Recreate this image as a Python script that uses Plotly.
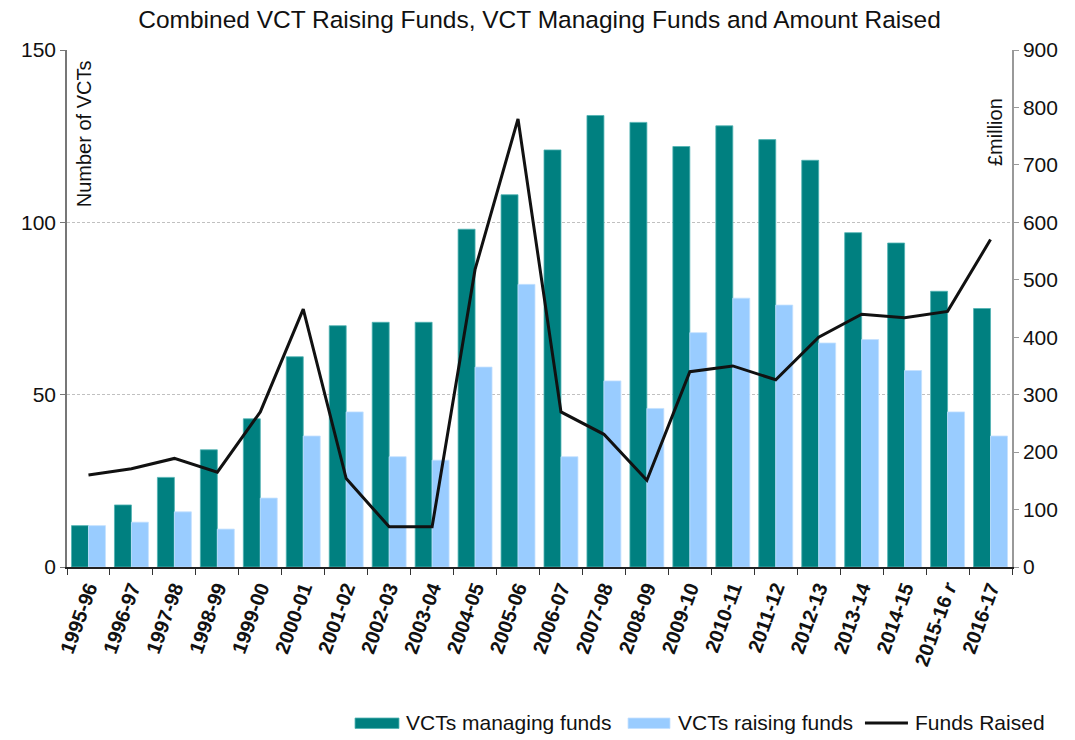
import plotly.graph_objects as go

years = ["1995-96", "1996-97", "1997-98", "1998-99", "1999-00", "2000-01", "2001-02",
         "2002-03", "2003-04", "2004-05", "2005-06", "2006-07", "2007-08", "2008-09",
         "2009-10", "2010-11", "2011-12", "2012-13", "2013-14", "2014-15", "2015-16 r",
         "2016-17"]
managing = [12, 18, 26, 34, 43, 61, 70, 71, 71, 98, 108, 121, 131, 129, 122, 128, 124,
            118, 97, 94, 80, 75]
raising = [12, 13, 16, 11, 20, 38, 45, 32, 31, 58, 82, 32, 54, 46, 68, 78, 76, 65, 66,
           57, 45, 38]
funds_raised = [160, 171, 189, 165, 270, 449, 154, 70, 70, 518, 780, 270, 231, 151, 340,
                350, 326, 400, 440, 434, 445, 570]
series_names = ["VCTs managing funds", "VCTs raising funds", "Funds Raised"]

FONT = "Liberation Sans, Arial, sans-serif"
TEAL = "#008080"
LIGHT = "#99CCFF"
BLACK = "#111111"

tick_text = [y.replace(" r", " <i>r</i>") for y in years]

fig = go.Figure()
fig.add_trace(go.Bar(x=years, y=managing, name=series_names[0],
                     marker=dict(color=TEAL, line=dict(color="#4FB3B3", width=0.8))))
fig.add_trace(go.Bar(x=years, y=raising, name=series_names[1],
                     marker=dict(color=LIGHT, line=dict(color="#C4E1FF", width=0.8))))
fig.add_trace(go.Scatter(x=years, y=funds_raised, name=series_names[2], yaxis="y2",
                         mode="lines", line=dict(color=BLACK, width=3)))

# manual legend (wide swatches as in the reference), positioned in paper coords
shapes = [
    dict(type="rect", xref="paper", yref="paper", x0=0.3048, x1=0.3513,
         y0=-0.3123, y1=-0.2921, fillcolor=TEAL, line=dict(color="#4FB3B3", width=0.8)),
    dict(type="rect", xref="paper", yref="paper", x0=0.5937, x1=0.6381,
         y0=-0.3123, y1=-0.2921, fillcolor=LIGHT, line=dict(color="#C4E1FF", width=0.8)),
    dict(type="line", xref="paper", yref="paper", x0=0.8444, x1=0.8899,
         y0=-0.3017, y1=-0.3017, line=dict(color=BLACK, width=3)),
]
legend_text_x = [0.3566, 0.6444, 0.8952]
annotations = [
    dict(text=name, xref="paper", yref="paper", x=lx, y=-0.3017, xanchor="left",
         yanchor="middle", showarrow=False, font=dict(size=21, family=FONT, color=BLACK))
    for name, lx in zip(series_names, legend_text_x)
]
annotations += [
    dict(text="Number of VCTs", xref="paper", yref="paper", x=0.018, y=0.983,
         xanchor="center", yanchor="top", textangle=-90, showarrow=False,
         font=dict(size=20, family=FONT, color=BLACK)),
    dict(text="£million", xref="paper", yref="paper", x=0.982, y=0.911,
         xanchor="center", yanchor="top", textangle=-90, showarrow=False,
         font=dict(size=20, family=FONT, color=BLACK)),
]

fig.update_layout(
    width=1075, height=740,
    margin=dict(l=67, r=63, t=50, b=173),
    paper_bgcolor="white", plot_bgcolor="white",
    font=dict(family=FONT, size=21, color=BLACK),
    title=dict(text="Combined VCT Raising Funds, VCT Managing Funds and Amount Raised",
               x=0.5, xref="paper", xanchor="center", y=0.974, yanchor="middle",
               font=dict(size=24.5, family=FONT, color=BLACK)),
    barmode="group", bargap=0.21, bargroupgap=0,
    showlegend=False,
    xaxis=dict(type="category", tickson="boundaries", ticks="outside", ticklen=6,
               tickcolor="#333333", showline=True, linecolor="#222222", linewidth=1.5,
               tickangle=-70, automargin=False,
               tickmode="array", tickvals=years, ticktext=tick_text,
               tickfont=dict(size=20, family=FONT, weight="bold", color=BLACK),
               showgrid=False),
    yaxis=dict(range=[0, 150], dtick=50, ticks="outside", ticklen=5, tickcolor="#777777",
               showline=True, linecolor="#777777", linewidth=1.5, automargin=False,
               showgrid=True, gridcolor="#C0C0C0", griddash="3px,2px", gridwidth=1,
               tickfont=dict(size=21), zeroline=False),
    yaxis2=dict(range=[0, 900], dtick=100, overlaying="y", side="right",
                ticks="outside", ticklen=5, tickcolor="#999999", automargin=False,
                showline=True, linecolor="#999999", linewidth=1.5,
                showgrid=False, zeroline=False, tickfont=dict(size=21)),
    shapes=shapes,
    annotations=annotations,
)

fig.write_html("out.html", config={"displayModeBar": False},
               post_script="document.body.style.margin='0';")
